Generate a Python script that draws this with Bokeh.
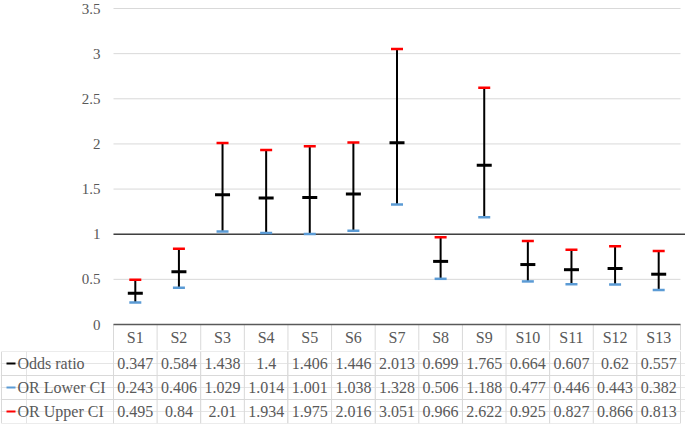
from bokeh.plotting import figure
from bokeh.models import Range1d, FixedTicker, ColumnDataSource, NumeralTickFormatter
from bokeh.layouts import column
from bokeh.embed import file_html
from bokeh.resources import INLINE
from bokeh.core.properties import value

# ---------------- data ----------------
categories = ["S1", "S2", "S3", "S4", "S5", "S6", "S7", "S8", "S9", "S10", "S11", "S12", "S13"]
odds_ratio = [0.347, 0.584, 1.438, 1.4, 1.406, 1.446, 2.013, 0.699, 1.765, 0.664, 0.607, 0.62, 0.557]
lower_ci = [0.243, 0.406, 1.029, 1.014, 1.001, 1.038, 1.328, 0.506, 1.188, 0.477, 0.446, 0.443, 0.382]
upper_ci = [0.495, 0.84, 2.01, 1.934, 1.975, 2.016, 3.051, 0.966, 2.622, 0.925, 0.827, 0.866, 0.813]
y_ticks = [0, 0.5, 1, 1.5, 2, 2.5, 3, 3.5]
row_labels = ["Odds ratio", "OR Lower CI", "OR Upper CI"]
row_colors = ["#000000", "#5B9BD5", "#FF0000"]

# ---------------- layout constants ----------------
W = 685
TABLE_LEFT = 113
TABLE_RIGHT = 680
n = len(categories)
COL_PX = (TABLE_RIGHT - TABLE_LEFT) / n
TX0 = -TABLE_LEFT / COL_PX
XEND = (W - TABLE_LEFT) / COL_PX
H1 = 350
H2 = 74
Y_PX = (324 - 8) / 3.5          # pixels per y unit
HDR = (H1 - 324) / Y_PX         # header row height in y units
YTOP = 3.5 + 7 / Y_PX           # headroom so the top tick label is not cut

FONT = "Liberation Serif"
TXT = "#595959"
GRID = "#D9D9D9"

xs = [i + 0.5 for i in range(n)]
src = ColumnDataSource(dict(x=xs, cat=categories, odds=odds_ratio, lo=lower_ci, hi=upper_ci))

# ---------------- chart ----------------
p = figure(width=W, height=H1, x_range=Range1d(TX0, XEND), y_range=Range1d(-HDR, YTOP),
           output_backend="svg", toolbar_location=None, x_axis_location=None,
           min_border_left=0, min_border_right=0, min_border_top=1, min_border_bottom=0,
           outline_line_color=None, background_fill_color="white", border_fill_color="white")
p.yaxis.fixed_location = 0
p.yaxis.ticker = FixedTicker(ticks=y_ticks)
p.yaxis.formatter = NumeralTickFormatter(format="0.[0]")
p.yaxis.axis_line_color = None
p.yaxis.major_tick_line_color = None
p.yaxis.minor_tick_line_color = None
p.yaxis.major_tick_out = 0
p.yaxis.major_tick_in = 0
p.yaxis.minor_tick_out = 0
p.yaxis.major_label_standoff = 13
p.yaxis.major_label_text_font = FONT
p.yaxis.major_label_text_font_size = "15px"
p.yaxis.major_label_text_color = TXT
p.xgrid.visible = False
p.ygrid.visible = False

# horizontal gridlines across the category area
p.segment(x0=[0] * len(y_ticks), y0=y_ticks, x1=[n] * len(y_ticks), y1=y_ticks,
          line_color=GRID, line_width=1)
# reference line at 1
p.segment(x0=[0], y0=[1], x1=[XEND], y1=[1], line_color="#404040", line_width=1.5)

# header row of data table
edges = list(range(n + 1))
p.segment(x0=edges, y0=[0] * len(edges), x1=edges, y1=[-HDR] * len(edges), line_color=GRID, line_width=1)
p.segment(x0=[0], y0=[0], x1=[n], y1=[0], line_color="#595959", line_width=1.5)
p.text(x="x", y=-HDR / 2, text="cat", source=src, text_align="center", text_baseline="middle",
       text_font=value(FONT), text_font_size="16px", text_color=TXT)

# error bars
p.segment(x0="x", y0="lo", x1="x", y1="hi", source=src, line_color="black", line_width=2)
p.dash(x="x", y="hi", source=src, size=12, line_width=2.5, line_color="#FF0000")
p.dash(x="x", y="lo", source=src, size=12, line_width=2.5, line_color="#5B9BD5")
p.dash(x="x", y="odds", source=src, size=15, line_width=3, line_color="black")

# ---------------- data table ----------------
LX = TX0 + 1 / COL_PX
t = figure(width=W, height=H2, x_range=Range1d(TX0, XEND), y_range=Range1d(0, 3),
           output_backend="svg", toolbar_location=None, x_axis_location=None, y_axis_location=None,
           min_border_left=0, min_border_right=0, min_border_top=1, min_border_bottom=1,
           outline_line_color=None, background_fill_color="white", border_fill_color="white")

hy = [0, 1, 2, 3]
t.segment(x0=[LX] * 4, y0=hy, x1=[n] * 4, y1=hy, line_color=GRID, line_width=1)
vx = [LX] + edges
t.segment(x0=vx, y0=[0] * len(vx), x1=vx, y1=[3] * len(vx), line_color=GRID, line_width=1)

row_y = [2.5, 1.5, 0.5]
t.dash(x=[LX + 9.5 / COL_PX] * 3, y=row_y, size=9, line_width=2, line_color=row_colors)
t.text(x=[LX + 16 / COL_PX] * 3, y=row_y, text=row_labels, text_align="left", text_baseline="middle",
       text_font=value(FONT), text_font_size="16px", text_color=TXT)

cell_x, cell_y, cell_t = [], [], []
for r, series in enumerate([odds_ratio, lower_ci, upper_ci]):
    for i, v in enumerate(series):
        cell_x.append(xs[i])
        cell_y.append(row_y[r])
        cell_t.append(f"{v:g}")
t.text(x=cell_x, y=cell_y, text=cell_t, text_align="center", text_baseline="middle",
       text_font=value(FONT), text_font_size="16px", text_color=TXT)

layout = column(p, t, spacing=0)
open("out.html", "w").write(file_html(layout, INLINE, "Odds ratio chart"))
